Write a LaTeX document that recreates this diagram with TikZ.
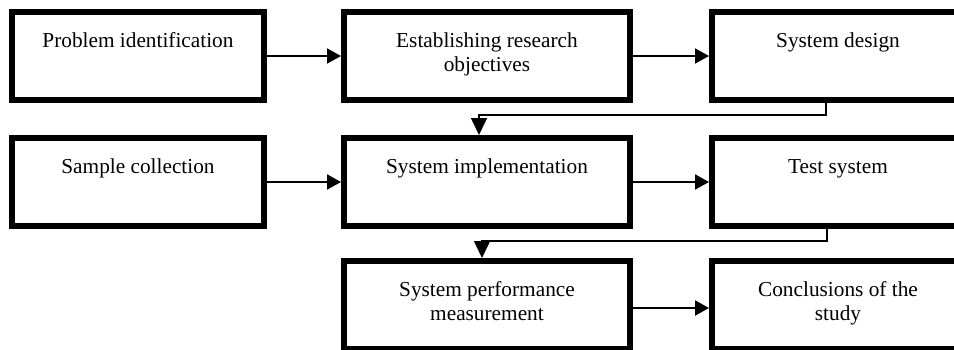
\documentclass[tikz,border=0pt]{standalone}
\usepackage{fontspec}
\setmainfont{Liberation Serif}
\usetikzlibrary{arrows.meta}
\tikzstyle{stage} = [draw, line width=6pt, minimum width=252pt, minimum height=88pt, inner sep=0pt, font=\fontsize{21.3}{24.5}\selectfont]
\tikzstyle{wide} = [stage, minimum width=286pt]
\tikzstyle{arrow} = [line width=2pt, -{Triangle[length=14pt,width=15pt]}]
\tikzstyle{link} = [line width=1.5pt, -{Triangle[length=17pt,width=16pt]}]
\newcommand{\stagetext}[1]{\parbox[c][52pt][t]{240pt}{\centering\strut #1}}

\begin{document}
\begin{tikzpicture}[x=1pt,y=-1pt]
        \useasboundingbox (0,0) rectangle (954,349);
        \clip (0,0) rectangle (954,349);
        \node [stage] at (138,56) (problem) {\stagetext{Problem identification}};
        \node [wide] at (487,56) (objectives) {\stagetext{Establishing research\\objectives}};
        \node [stage] at (838,56) (design) {\stagetext{System design}};
        \node [stage] at (138,182) (sample) {\stagetext{Sample collection}};
        \node [wide] at (487,182) (implement) {\stagetext{System implementation}};
        \node [stage] at (838,182) (test) {\stagetext{Test system}};
        \node [wide] at (487,305) (measure) {\stagetext{System performance\\measurement}};
        \node [stage] at (838,305) (conclude) {\stagetext{Conclusions of the\\study}};
        \draw [arrow] (problem) -- (objectives);
        \draw [arrow] (objectives) -- (design);
        \draw [arrow] (sample) -- (implement);
        \draw [arrow] (implement) -- (test);
        \draw [arrow] ([yshift=-3pt]measure.east) -- ([yshift=-3pt]conclude.west);
        \draw [link] ([xshift=-12pt]design.south) -- ++(0,12) -| ([xshift=-8pt]implement.north);
        \draw [link] ([xshift=-11pt]test.south) -- ++(0,12) -| ([xshift=-5pt]measure.north);
\end{tikzpicture}
\end{document}
